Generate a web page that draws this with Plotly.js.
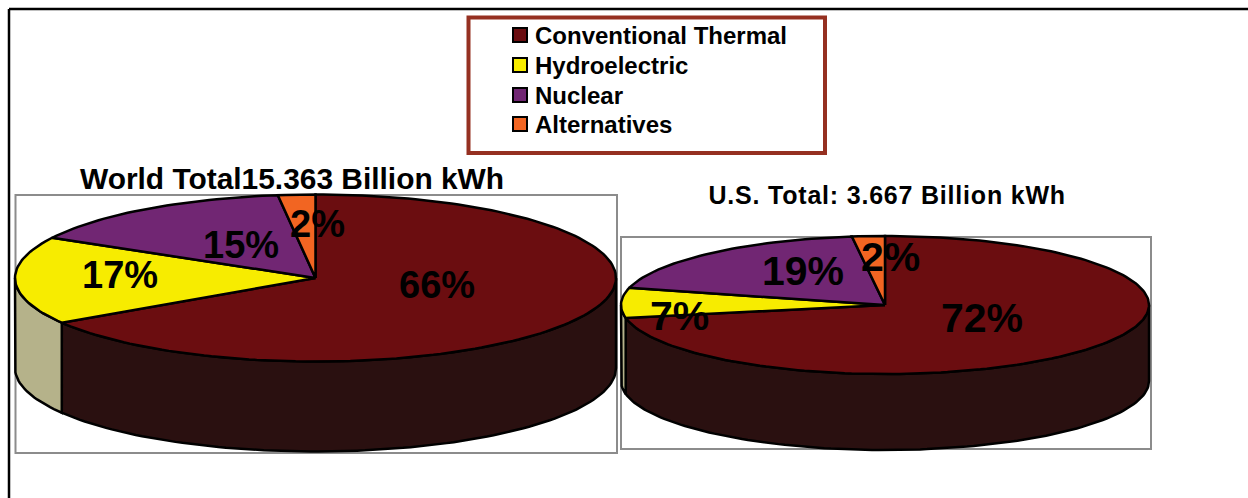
<!DOCTYPE html>
<html>
<head>
<meta charset="utf-8">
<script src="https://cdn.plot.ly/plotly-3.0.1.min.js"></script>
<style>
  html, body { margin: 0; padding: 0; background: #fff; overflow: hidden; }
  #chart { width: 1248px; height: 498px; }
  /* the U.S. heading is set slightly looser than the others */
  .annotation:nth-of-type(3) text { letter-spacing: 0.8px; }
</style>
</head>
<body>
<div id="chart"></div>
<script>
// Electricity generation by source, share of total in percent
const sources = ['Conventional Thermal', 'Hydroelectric', 'Nuclear', 'Alternatives'];
const worldShares = [66, 17, 15, 2];
const usShares = [72, 7, 19, 2];
const worldTitle = 'World Total15.363 Billion kWh';
const usTitle = 'U.S. Total: 3.667 Billion kWh';

// Styling per source: top face and the darker side wall
const faceColors = ['#6B0D10', '#F7EC00', '#712673', '#F26522'];
const wallColors = ['#2A1010', '#B5B28A', '#3A1A3A', '#7A3010'];

// Pie geometry in plot units (the axes run 1:1 with the page)
const worldPie = { cx: 315.5, cy: 278, rx: 300.5, ry: 83.5, depth: 90, fontSize: 38,
  labels: [[437, 285], [120, 275], [241, 245], [317, 224]] };
const usPie = { cx: 885, cy: 305, rx: 264, ry: 69, depth: 76, fontSize: 41,
  labels: [[982, 318], [679, 316], [803, 271], [890, 257]] };

const ink = '#000';
const arcStep = 1.5;

function rimPoint(pie, deg, drop) {
  const a = deg * Math.PI / 180;
  return [pie.cx + pie.rx * Math.sin(a), pie.cy - pie.ry * Math.cos(a) + drop];
}

function arc(pie, from, to, drop) {
  const pts = [];
  const n = Math.max(2, Math.ceil((to - from) / arcStep));
  for (let i = 0; i <= n; i++) pts.push(rimPoint(pie, from + (to - from) * i / n, drop));
  return pts;
}

function polygon(pts, fill, name) {
  return {
    type: 'scatter', mode: 'lines', fill: 'toself', fillcolor: fill, name,
    x: pts.map(p => p[0]), y: pts.map(p => p[1]),
    line: { color: ink, width: 2.5 }, hoverinfo: 'skip', showlegend: false
  };
}

// Side walls first (only the front half of the rim shows), then the wedges on top
function pieTraces(pie, shares) {
  const walls = [], wedges = [];
  let start = 0;
  shares.forEach((share, i) => {
    const end = start + share * 3.6;
    const from = Math.max(start, 90), to = Math.min(end, 270);
    if (to > from) {
      const upper = arc(pie, from, to, 0);
      const lower = arc(pie, from, to, pie.depth).reverse();
      walls.push(polygon(upper.concat(lower, [upper[0]]), wallColors[i], sources[i]));
    }
    const centre = [pie.cx, pie.cy];
    wedges.push(polygon([centre].concat(arc(pie, start, end, 0), [centre]), faceColors[i], sources[i]));
    start = end;
  });
  return walls.concat(wedges);
}

function percentLabels(pie, shares) {
  return shares.map((share, i) => ({
    x: pie.labels[i][0], y: pie.labels[i][1], xref: 'x', yref: 'y',
    text: share + '%', showarrow: false, xanchor: 'center', yanchor: 'middle',
    font: { family: 'Liberation Sans', size: pie.fontSize, color: ink, weight: 700 }
  }));
}

const legendRows = [35, 65, 95, 124];
const legendTrace = {
  type: 'scatter', mode: 'markers', x: sources.map(() => 520), y: legendRows,
  marker: { symbol: 'square', size: 14, color: faceColors, line: { color: ink, width: 2 } },
  hoverinfo: 'skip', showlegend: false
};
const legendLabels = sources.map((s, i) => ({
  x: 533, y: legendRows[i], xref: 'x', yref: 'y', text: s, showarrow: false,
  xanchor: 'left', yanchor: 'middle',
  font: { family: 'Liberation Sans', size: 24, color: ink, weight: 700 }
}));

function titleNote(text, x, y, size) {
  return { x, y, xref: 'x', yref: 'y', text, showarrow: false, xanchor: 'center', yanchor: 'middle',
    font: { family: 'Liberation Sans', size, color: ink, weight: 700 } };
}

function box(x0, y0, x1, y1, color, width) {
  return { type: 'rect', layer: 'below', xref: 'x', yref: 'y', x0, y0, x1, y1,
    line: { color, width }, fillcolor: 'rgba(0,0,0,0)' };
}

const hiddenAxis = { visible: false, fixedrange: true, showgrid: false, zeroline: false };

Plotly.newPlot('chart',
  pieTraces(worldPie, worldShares).concat(pieTraces(usPie, usShares), [legendTrace]),
  {
    width: 1248, height: 498,
    margin: { l: 0, r: 0, t: 0, b: 0 },
    paper_bgcolor: '#fff', plot_bgcolor: '#fff',
    xaxis: Object.assign({ range: [0, 1248] }, hiddenAxis),
    yaxis: Object.assign({ range: [498, 0] }, hiddenAxis),
    showlegend: false,
    shapes: [
      { type: 'line', layer: 'below', xref: 'x', yref: 'y', x0: 9, y0: 9, x1: 1248, y1: 9, line: { color: ink, width: 2.5 } },
      { type: 'line', layer: 'below', xref: 'x', yref: 'y', x0: 9, y0: 9, x1: 9, y1: 498, line: { color: ink, width: 2.5 } },
      box(468.5, 17.5, 825, 153, '#953021', 4),
      box(15.5, 195, 617, 453, '#8C8C8C', 2),
      box(621, 237, 1151, 449, '#8C8C8C', 2)
    ],
    annotations: [
      titleNote(worldTitle, 292, 178, 29.9),
      titleNote(usTitle, 887, 195, 25)
    ].concat(legendLabels, percentLabels(worldPie, worldShares), percentLabels(usPie, usShares))
  },
  { staticPlot: true, displayModeBar: false }
);
</script>
</body>
</html>
